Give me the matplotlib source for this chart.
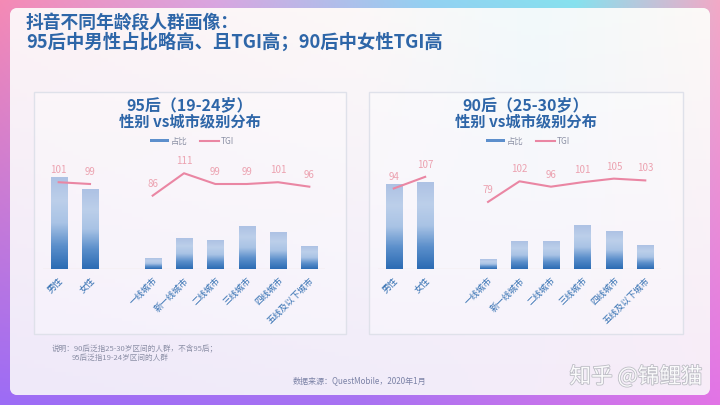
import matplotlib.pyplot as plt
import matplotlib.patheffects as pe
import numpy as np
from matplotlib.colors import to_rgb
from matplotlib.patches import FancyBboxPatch, Rectangle, Patch
from matplotlib.lines import Line2D

plt.rcParams['font.family'] = ['Noto Sans CJK SC', 'DejaVu Sans']

# data
categories = ['男性', '女性', '', '一线城市', '新一线城市', '二线城市', '三线城市', '四线城市', '五线及以下城市']
x_pos = [0, 1, 3, 4, 5, 6, 7, 8]
tick_labels = [c for c in categories if c]

share_95 = [53.6, 46.4, 6.2, 17.9, 16.6, 24.9, 21.1, 13.0]
share_90 = [49.7, 50.3, 5.8, 16.1, 15.8, 25.3, 22.0, 13.8]
tgi_gender_95 = [101, 99]
tgi_city_95 = [86, 111, 99, 99, 101, 96]
tgi_gender_90 = [94, 107]
tgi_city_90 = [79, 102, 96, 101, 105, 103]

titles = [('95后（19-24岁）', '性别 vs城市级别分布'), ('90后（25-30岁）', '性别 vs城市级别分布')]

W, H = 720, 405
BLUE = '#2e66a8'
PINK = '#ea86a3'
PINK_TXT = '#eca2b0'

fig = plt.figure(figsize=(7.2, 4.05), dpi=100)

# background frame
bg = fig.add_axes([0, 0, 1, 1])
bg.set_xlim(0, W)
bg.set_ylim(H, 0)
bg.axis('off')


def hgrad(stops, n):
    xs = np.linspace(0, 1, n)
    pos = [s[0] for s in stops]
    cols = np.array([to_rgb(s[1]) for s in stops])
    return np.stack([np.interp(xs, pos, cols[:, i]) for i in range(3)], axis=1)


top_row = hgrad([(0, '#f58ab5'), (0.3, '#d9a6e0'), (0.6, '#92d2f2'), (0.8, '#86e2ee'), (1, '#f3a9c6')], W)
bot_row = hgrad([(0, '#9c6cf6'), (0.5, '#a872f2'), (1, '#e274e6')], W)
t = np.linspace(0, 1, H)[:, None, None]
frame = top_row[None] * (1 - t) + bot_row[None] * t
bg.imshow(frame, extent=(0, W, H, 0), aspect='auto', zorder=0)

panel = FancyBboxPatch((10, 8), 700, 387, boxstyle='round,pad=0,rounding_size=8',
                       facecolor='#f8f5f9', edgecolor='none', zorder=1)
bg.add_patch(panel)
in_top = hgrad([(0, '#fcf3f6'), (0.5, '#fcf8f8'), (0.75, '#f2fafb'), (1, '#fcf9f7')], 200)
in_bot = hgrad([(0, '#efe9fa'), (0.5, '#f1ecfa'), (1, '#f7ecf8')], 200)
tt = np.linspace(0, 1, 100)[:, None, None]
inner = in_top[None] * (1 - tt) + in_bot[None] * tt
im = bg.imshow(inner, extent=(10, 710, 395, 8), aspect='auto', zorder=2)
im.set_clip_path(panel)
bg.set_xlim(0, W)
bg.set_ylim(H, 0)

# main title
bg.text(26, 23, '抖音不同年龄段人群画像：', fontsize=12.8, fontweight='bold', color=BLUE, va='center', zorder=5)
bg.text(26, 42, '95后中男性占比略高、且TGI高；90后中女性TGI高', fontsize=13.2, fontweight='bold',
        color=BLUE, va='center', zorder=5)

# chart boxes
boxes = [(34, 92, 312, 242), (369, 92, 314, 242)]
for bx, by, bw, bh in boxes:
    bg.add_patch(Rectangle((bx, by), bw, bh, facecolor='#ffffff', alpha=0.35, edgecolor='none', zorder=3))
    bg.add_patch(Rectangle((bx, by), bw, bh, facecolor='none', edgecolor='#dfe1ea', lw=1.0, zorder=4))

# bar gradient (bottom -> top)
bar_grad = np.array([to_rgb(c) for c in ['#2c6cb4', '#5b8fcb', '#a9c3e5', '#bccfea', '#aec2e4']])
gy = np.linspace(0, 1, 64)
gpos = np.linspace(0, 1, len(bar_grad))
bar_img = np.stack([np.interp(gy, gpos, bar_grad[:, i]) for i in range(3)], axis=1)[:, None, :]

panels = [
    (43, 282, share_95, tgi_gender_95, tgi_city_95),
    (378, 283, share_90, tgi_gender_90, tgi_city_90),
]

for k, (left, width, share, tg, tc) in enumerate(panels):
    ax = fig.add_axes([left / W, (H - 269) / H, width / W, 119 / H])
    ax.patch.set_alpha(0)
    for s in ax.spines.values():
        s.set_visible(False)
    bars = ax.bar(x_pos, share, width=0.52, color='none', zorder=2)
    for b in bars:
        ax.imshow(bar_img, extent=(b.get_x(), b.get_x() + b.get_width(), 0, b.get_height()),
                  origin='lower', aspect='auto', zorder=2)
    ax.axhline(0, color='#ecdccc', lw=0.9, zorder=1)
    ax.set_xlim(-0.5, 8.5)
    ax.set_ylim(0, 69.6)
    ax.set_yticks([])
    ax.set_xticks(x_pos)
    ax.set_xticklabels(tick_labels, rotation=45, ha='right', va='top', rotation_mode='anchor',
                       fontsize=6.3, color='#2f6db0')
    ax.tick_params(axis='x', length=0, pad=5)

    ax2 = ax.twinx()
    ax2.set_ylim(4, 137)
    ax2.axis('off')
    ax2.plot(x_pos[:2], tg, color=PINK, lw=1.5, zorder=3)
    ax2.plot(x_pos[2:], tc, color=PINK, lw=1.5, zorder=3)
    for xv, v in zip(x_pos, tg + tc):
        ax2.annotate(str(v), (xv, v), xytext=(0, 5), textcoords='offset points', ha='center',
                     va='bottom', fontsize=7, color=PINK_TXT)

    bx, by, bw, bh = boxes[k]
    cx = bx + bw / 2
    bg.text(cx, 105, titles[k][0], fontsize=11.5, fontweight='bold', color=BLUE, ha='center', va='center', zorder=5)
    bg.text(cx, 121, titles[k][1], fontsize=11, fontweight='bold', color=BLUE, ha='center', va='center', zorder=5)

    handles = [Patch(facecolor='#5d8fcc', edgecolor='none'), Line2D([], [], color=PINK, lw=1.5)]
    ax.legend(handles, ['占比', 'TGI'], loc='center', bbox_to_anchor=((cx + 2) / W, (H - 141) / H),
              bbox_transform=fig.transFigure, ncol=2, frameon=False, fontsize=6, labelcolor='#8d92a6',
              handlelength=2.2, handleheight=0.35, columnspacing=1.6, handletextpad=0.2)

# footnotes
bg.text(52, 349, '说明：90后泛指25-30岁区间的人群，不含95后；', fontsize=5.5, color='#8b8fa6', va='center', zorder=5)
bg.text(72, 358, '95后泛指19-24岁区间的人群', fontsize=5.5, color='#8b8fa6', va='center', zorder=5)
bg.text(360, 381, '数据来源：QuestMobile，2020年1月', fontsize=5.8, color='#7b82a6', ha='center', va='center', zorder=5)
bg.text(636, 377, '知乎 @锦鲤猫', fontsize=15.5, color='#fafafb', ha='center', va='center', zorder=5,
        path_effects=[pe.withStroke(linewidth=1.2, foreground='#bdbdc5')])

fig.savefig('out.png', dpi=100)
